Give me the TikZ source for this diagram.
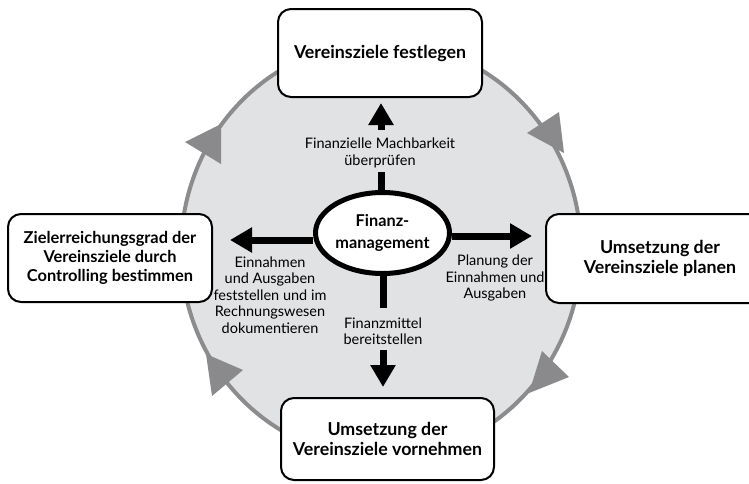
\documentclass[tikz,border=0pt]{standalone}
\usepackage{fontspec}
\setmainfont{Lato}
\usetikzlibrary{arrows.meta,shapes.geometric}
\definecolor{ringfill}{HTML}{E1E2E4}
\definecolor{ringline}{HTML}{8C8C8E}
\definecolor{tricol}{HTML}{8A8A8C}
\begin{document}
\begin{tikzpicture}[x=1pt,y=-1pt,
  box/.style={draw=black,line width=2pt,rounded corners=13pt,fill=white,align=center,
    font=\fontsize{17.8}{19.5}\selectfont\bfseries,inner sep=0pt},
  lbl/.style={align=center,font=\fontsize{14.5}{16.5}\selectfont,inner sep=0pt},
  stem/.style={line width=7pt},
  barrow/.style={line width=7pt,-{Triangle[length=22pt,width=24pt]}},
  ringtri/.style={fill=tricol},
]
\useasboundingbox (0,0) rectangle (749,483);
\fill[white] (0,0) rectangle (749,483);
% ring
\draw[ringline,fill=ringfill,line width=4pt] (381,250) ellipse [x radius=200pt, y radius=208pt];
\fill[ringtri] (185,142) -- (221,124) -- (221,164) -- cycle;
\fill[ringtri] (527,133) -- (559,112) -- (564,153) -- cycle;
\fill[ringtri] (542,351) -- (569,377) -- (529,393) -- cycle;
\fill[ringtri] (206,354) -- (243,370) -- (212,396) -- cycle;
% boxes
\node[box,minimum width=204pt,minimum height=88pt] (top) at (380,53) {Vereinsziele festlegen};
\node[box,minimum width=204pt,minimum height=88pt,font=\fontsize{16.4}{19}\selectfont\bfseries] (left) at (110,258) {Zielerreichungsgrad der\\Vereinsziele durch\\Controlling bestimmen};
\node[box,minimum width=228pt,minimum height=89pt] (right) at (660,258.5) {Umsetzung der\\Vereinsziele planen};
\node[box,minimum width=213pt,minimum height=82pt] (bottom) at (387.5,439) {Umsetzung der\\Vereinsziele vornehmen};
% centre
\node[draw=black,line width=5pt,fill=white,ellipse,minimum width=134pt,minimum height=81pt,inner sep=0pt,
  align=center,font=\fontsize{16.3}{21.5}\selectfont\bfseries] (ell) at (382.5,233) {Finanz-\\management};
% labels
\node[lbl] (upl) at (380,153) {Finanzielle Machbarkeit\\überprüfen};
\node[lbl] (rightl) at (495,278) {Planung der\\Einnahmen und\\Ausgaben};
\node[lbl] (leftl) at (270,295) {Einnahmen\\und Ausgaben\\feststellen und im\\Rechnungswesen\\dokumentieren};
\node[lbl] (downl) at (383,331) {Finanzmittel\\bereitstellen};
% arrows
\coordinate (upS) at (381,172);
\coordinate (upA) at (381,130);
\coordinate (upT) at (381,103);
\coordinate (dnS) at (383,308);
\coordinate (dnA) at (383,350);
\coordinate (dnT) at (383,387);
\coordinate (rT) at (532,236);
\coordinate (lT) at (230,240);
\draw[stem] (ell.north -| upS) -- (upS);
\draw[barrow] (upA) -- (upT);
\draw[stem] (ell.south -| dnS) -- (dnS);
\draw[barrow] (dnA) -- (dnT);
\draw[barrow] (ell.east |- rT) -- (rT);
\draw[barrow] (ell.west |- lT) -- (lT);
\end{tikzpicture}
\end{document}
